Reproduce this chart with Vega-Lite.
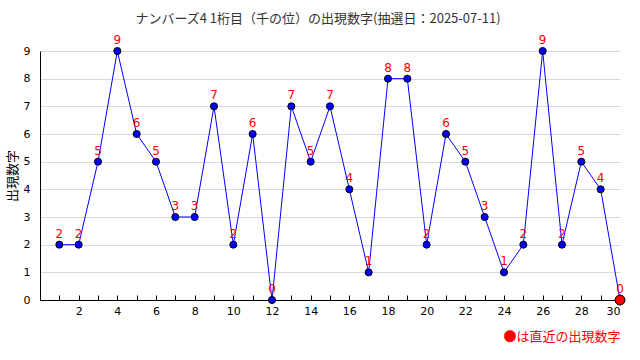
{
  "$schema": "https://vega.github.io/schema/vega-lite/v6.json",
  "width": 580,
  "height": 249,
  "autosize": "none",
  "padding": {"left": 40, "top": 51, "right": 20, "bottom": 60},
  "background": "white",
  "title": {
    "text": "ナンバーズ4 1桁目（千の位）の出現数字(抽選日：2025-07-11)",
    "font": "Noto Sans CJK JP",
    "fontSize": 13,
    "fontWeight": "normal",
    "color": "#333333",
    "offset": 8,
    "dx": -12
  },
  "data": {
    "values": [
      {"n": 1, "v": 2}, {"n": 2, "v": 2}, {"n": 3, "v": 5}, {"n": 4, "v": 9},
      {"n": 5, "v": 6}, {"n": 6, "v": 5}, {"n": 7, "v": 3}, {"n": 8, "v": 3},
      {"n": 9, "v": 7}, {"n": 10, "v": 2}, {"n": 11, "v": 6}, {"n": 12, "v": 0},
      {"n": 13, "v": 7}, {"n": 14, "v": 5}, {"n": 15, "v": 7}, {"n": 16, "v": 4},
      {"n": 17, "v": 1}, {"n": 18, "v": 8}, {"n": 19, "v": 8}, {"n": 20, "v": 2},
      {"n": 21, "v": 6}, {"n": 22, "v": 5}, {"n": 23, "v": 3}, {"n": 24, "v": 1},
      {"n": 25, "v": 2}, {"n": 26, "v": 9}, {"n": 27, "v": 2}, {"n": 28, "v": 5},
      {"n": 29, "v": 4}, {"n": 30, "v": 0}
    ]
  },
  "encoding": {
    "x": {
      "field": "n",
      "type": "quantitative",
      "scale": {"domain": [0, 30], "nice": false, "zero": false},
      "axis": {
        "values": [1,2,3,4,5,6,7,8,9,10,11,12,13,14,15,16,17,18,19,20,21,22,23,24,25,26,27,28,29,30],
        "labelExpr": "datum.value % 2 == 0 ? datum.label : ''",
        "grid": false,
        "tickSize": -5,
        "tickColor": "#000000",
        "domainColor": "#000000",
        "labelFont": "DejaVu Sans",
        "labelFontSize": 11,
        "labelColor": "#000000",
        "labelPadding": 10,
        "title": "●は直近の出現数字",
        "titleColor": "#ff0000",
        "titleFont": "Noto Sans CJK JP",
        "titleFontSize": 13,
        "titleFontWeight": "normal",
        "titleAnchor": "end",
        "titlePadding": 14
      }
    },
    "y": {
      "field": "v",
      "type": "quantitative",
      "scale": {"domain": [0, 9], "nice": false},
      "axis": {
        "values": [0,1,2,3,4,5,6,7,8,9],
        "ticks": false,
        "grid": true,
        "gridColor": "#d9d9d9",
        "domainColor": "#000000",
        "labelFont": "DejaVu Sans",
        "labelFontSize": 11,
        "labelColor": "#000000",
        "labelPadding": 10,
        "title": "出現数字",
        "titleFont": "Noto Sans CJK JP",
        "titleFontSize": 13,
        "titleFontWeight": "normal",
        "titleColor": "#000000",
        "titlePadding": 4
      }
    }
  },
  "layer": [
    {"mark": {"type": "line", "color": "#0000ff", "strokeWidth": 1}},
    {
      "mark": {"type": "point", "filled": true, "shape": "circle", "stroke": "#000000", "strokeWidth": 1, "opacity": 1},
      "encoding": {
        "fill": {"condition": {"test": "datum.n == 30", "value": "#ff0000"}, "value": "#0000ff"},
        "size": {"condition": {"test": "datum.n == 30", "value": 100}, "value": 50}
      }
    },
    {
      "mark": {"type": "text", "color": "#ff0000", "dy": -11, "font": "DejaVu Sans", "fontSize": 12},
      "encoding": {"text": {"field": "v", "type": "quantitative"}}
    }
  ],
  "config": {"view": {"stroke": null}}
}
